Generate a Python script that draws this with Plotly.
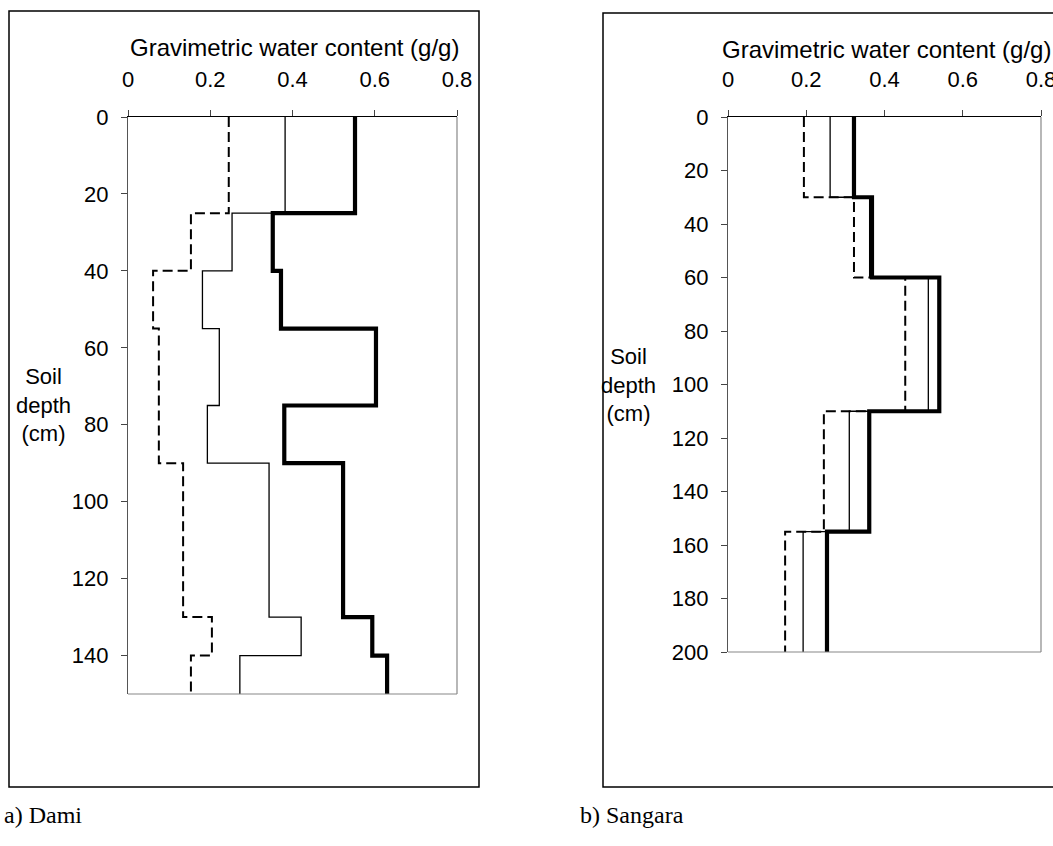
import plotly.graph_objects as go

W, H = 1053, 846

# ---------------- data ----------------
x_tick_vals = [0, 0.2, 0.4, 0.6, 0.8]
x_tick_text = ["0", "0.2", "0.4", "0.6", "0.8"]

# a) Dami : layer tops (cm) and gravimetric water content (g/g) per layer
dami_tops = [0, 25, 40, 55, 75, 90, 130, 140]
dami_bottom = 150
dami_dashed = [0.245, 0.153, 0.061, 0.075, 0.075, 0.134, 0.204, 0.153]
dami_thin = [0.382, 0.253, 0.181, 0.222, 0.193, 0.343, 0.421, 0.272]
dami_thick = [0.552, 0.352, 0.372, 0.603, 0.380, 0.523, 0.594, 0.630]
dami_yticks = [0, 20, 40, 60, 80, 100, 120, 140]

# b) Sangara
sang_tops = [0, 30, 60, 110, 155]
sang_bottom = 200
sang_dashed = [0.194, 0.322, 0.453, 0.245, 0.146]
sang_thin = [0.261, 0.362, 0.512, 0.310, 0.192]
sang_thick = [0.322, 0.368, 0.540, 0.361, 0.253]
sang_yticks = [0, 20, 40, 60, 80, 100, 120, 140, 160, 180, 200]

x_title = "Gravimetric water content (g/g)"
y_title = "Soil<br>depth<br>(cm)"
captions = ["a) Dami", "b) Sangara"]

SANS = "Liberation Sans, Arial, sans-serif"
SERIF = "Liberation Serif, Times New Roman, serif"
FS_TICK = 22
FS_TITLE = 24
FS_YLAB = 22


def px(x):
    return x / W


def py(y):
    return 1 - y / H


fig = go.Figure()


def add_profile(tops, bottom, vals, xa, ya, width, dash):
    fig.add_trace(go.Scatter(
        x=list(vals) + [vals[-1]],
        y=list(tops) + [bottom],
        mode="lines",
        line=dict(shape="vh", color="black", width=width, dash=dash),
        xaxis=xa, yaxis=ya, showlegend=False, hoverinfo="skip",
    ))


for xa, ya, tops, bot, d, t, k in [
    ("x", "y", dami_tops, dami_bottom, dami_dashed, dami_thin, dami_thick),
    ("x2", "y2", sang_tops, sang_bottom, sang_dashed, sang_thin, sang_thick),
]:
    add_profile(tops, bot, d, xa, ya, 2, "10px,5px")
    add_profile(tops, bot, t, xa, ya, 1.3, "solid")
    add_profile(tops, bot, k, xa, ya, 4.2, "solid")

# plot-area pixel geometry
L = dict(x0=128, x1=457, y0=117, y1=694)
R = dict(x0=728, x1=1041, y0=117, y1=652)

common_x = dict(
    side="top", range=[0, 0.8], tickvals=x_tick_vals, ticktext=x_tick_text,
    ticks="outside", ticklen=6, tickcolor="#444", tickwidth=1,
    showline=True, linecolor="black", linewidth=1, showgrid=False,
    zeroline=False, tickfont=dict(family=SANS, size=FS_TICK, color="black"),
    ticklabelstandoff=14, fixedrange=True, automargin=False,
    ticklabeloverflow="allow",
)
common_y = dict(
    ticks="outside", ticklen=6, tickcolor="#444", tickwidth=1,
    showline=True, linecolor="#555", linewidth=1.3, showgrid=False,
    zeroline=False, tickfont=dict(family=SANS, size=FS_TICK, color="black"),
    ticklabelstandoff=8, fixedrange=True, automargin=False,
    ticklabeloverflow="allow",
)

fig.update_layout(
    width=W, height=H, margin=dict(l=0, r=0, t=0, b=0, autoexpand=False),
    paper_bgcolor="white", plot_bgcolor="white",
    xaxis=dict(domain=[px(L["x0"]), px(L["x1"])], anchor="y", **common_x),
    yaxis=dict(domain=[py(L["y1"]), py(L["y0"])], anchor="x",
               range=[dami_bottom, 0], tickvals=dami_yticks, **common_y),
    xaxis2=dict(domain=[px(R["x0"]), px(R["x1"])], anchor="y2", **common_x),
    yaxis2=dict(domain=[py(R["y1"]), py(R["y0"])], anchor="x2",
                range=[sang_bottom, 0], tickvals=sang_yticks, **common_y),
)

shapes = []
# outer boxes
shapes.append(dict(type="rect", xref="paper", yref="paper",
                   x0=px(9), x1=px(479), y0=py(787), y1=py(11),
                   line=dict(color="black", width=1.5), layer="below"))
shapes.append(dict(type="rect", xref="paper", yref="paper",
                   x0=px(603), x1=px(1080), y0=py(787), y1=py(13),
                   line=dict(color="black", width=1.5), layer="below"))
# right & bottom borders of the plot areas
for xr, yr in [("x", "y"), ("x2", "y2")]:
    shapes.append(dict(type="line", xref=f"{xr} domain", yref=f"{yr} domain",
                       x0=1, x1=1, y0=0, y1=1, line=dict(color="#888", width=1.2)))
    shapes.append(dict(type="line", xref=f"{xr} domain", yref=f"{yr} domain",
                       x0=0, x1=1, y0=0, y1=0, line=dict(color="#888", width=1.2)))
fig.update_layout(shapes=shapes)

ann = []
ann.append(dict(text=x_title, xref="paper", yref="paper", x=px(294), y=py(48),
                showarrow=False, xanchor="center", yanchor="middle",
                font=dict(family=SANS, size=FS_TITLE, color="black")))
ann.append(dict(text=x_title, xref="paper", yref="paper", x=px(886), y=py(50),
                showarrow=False, xanchor="center", yanchor="middle",
                font=dict(family=SANS, size=FS_TITLE, color="black")))
ann.append(dict(text=y_title, xref="paper", yref="paper", x=px(43), y=py(405),
                showarrow=False, xanchor="center", yanchor="middle",
                font=dict(family=SANS, size=FS_YLAB, color="black")))
ann.append(dict(text=y_title, xref="paper", yref="paper", x=px(628), y=py(385),
                showarrow=False, xanchor="center", yanchor="middle",
                font=dict(family=SANS, size=FS_YLAB, color="black")))
ann.append(dict(text=captions[0], xref="paper", yref="paper", x=px(2), y=py(815),
                showarrow=False, xanchor="left", yanchor="middle",
                font=dict(family=SERIF, size=24, color="black")))
ann.append(dict(text=captions[1], xref="paper", yref="paper", x=px(578), y=py(815),
                showarrow=False, xanchor="left", yanchor="middle",
                font=dict(family=SERIF, size=24, color="black")))
fig.update_layout(annotations=ann)

fig.write_html("out.html")
